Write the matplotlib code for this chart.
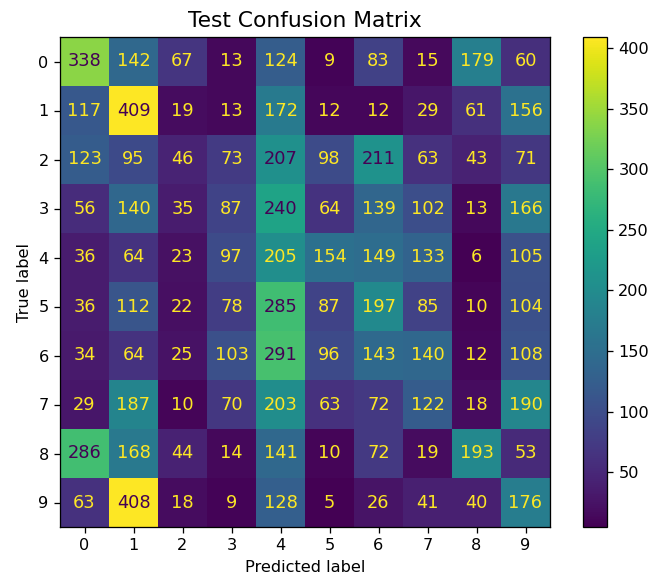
import matplotlib
matplotlib.use("Agg")
import matplotlib.pyplot as plt
import numpy as np

labels = [str(i) for i in range(10)]
cm = np.array([
    [338, 142, 67, 13, 124, 9, 83, 15, 179, 60],
    [117, 409, 19, 13, 172, 12, 12, 29, 61, 156],
    [123, 95, 46, 73, 207, 98, 211, 63, 43, 71],
    [56, 140, 35, 87, 240, 64, 139, 102, 13, 166],
    [36, 64, 23, 97, 205, 154, 149, 133, 6, 105],
    [36, 112, 22, 78, 285, 87, 197, 85, 10, 104],
    [34, 64, 25, 103, 291, 96, 143, 140, 12, 108],
    [29, 187, 10, 70, 203, 63, 72, 122, 18, 190],
    [286, 168, 44, 14, 141, 10, 72, 19, 193, 53],
    [63, 408, 18, 9, 128, 5, 26, 41, 40, 176],
])

DPI = 116
fig = plt.figure(figsize=(657/DPI, 584/DPI), dpi=DPI)
ax = fig.add_axes([60/657, 57/584, 490/657, 490/584])
cax = fig.add_axes([583/657, 57/584, 24/657, 490/584])

cmap = plt.get_cmap("viridis")
im = ax.imshow(cm, cmap=cmap, interpolation="nearest")
fig.colorbar(im, cax=cax)

# text colour like sklearn: light on dark cells, dark on light cells
thresh = (cm.max() + cm.min()) / 2.0
for i in range(cm.shape[0]):
    for j in range(cm.shape[1]):
        c = cmap(1.0) if cm[i, j] < thresh else cmap(0.0)
        ax.text(j, i, str(cm[i, j]), ha="center", va="center", color=c, fontsize=11)

ax.set_xticks(range(10))
ax.set_yticks(range(10))
ax.set_xticklabels(labels)
ax.set_yticklabels(labels)
ax.set_xlabel("Predicted label")
ax.set_ylabel("True label")
ax.set_title("Test Confusion Matrix", fontsize=13.5)

fig.savefig("out.png", dpi=DPI)
